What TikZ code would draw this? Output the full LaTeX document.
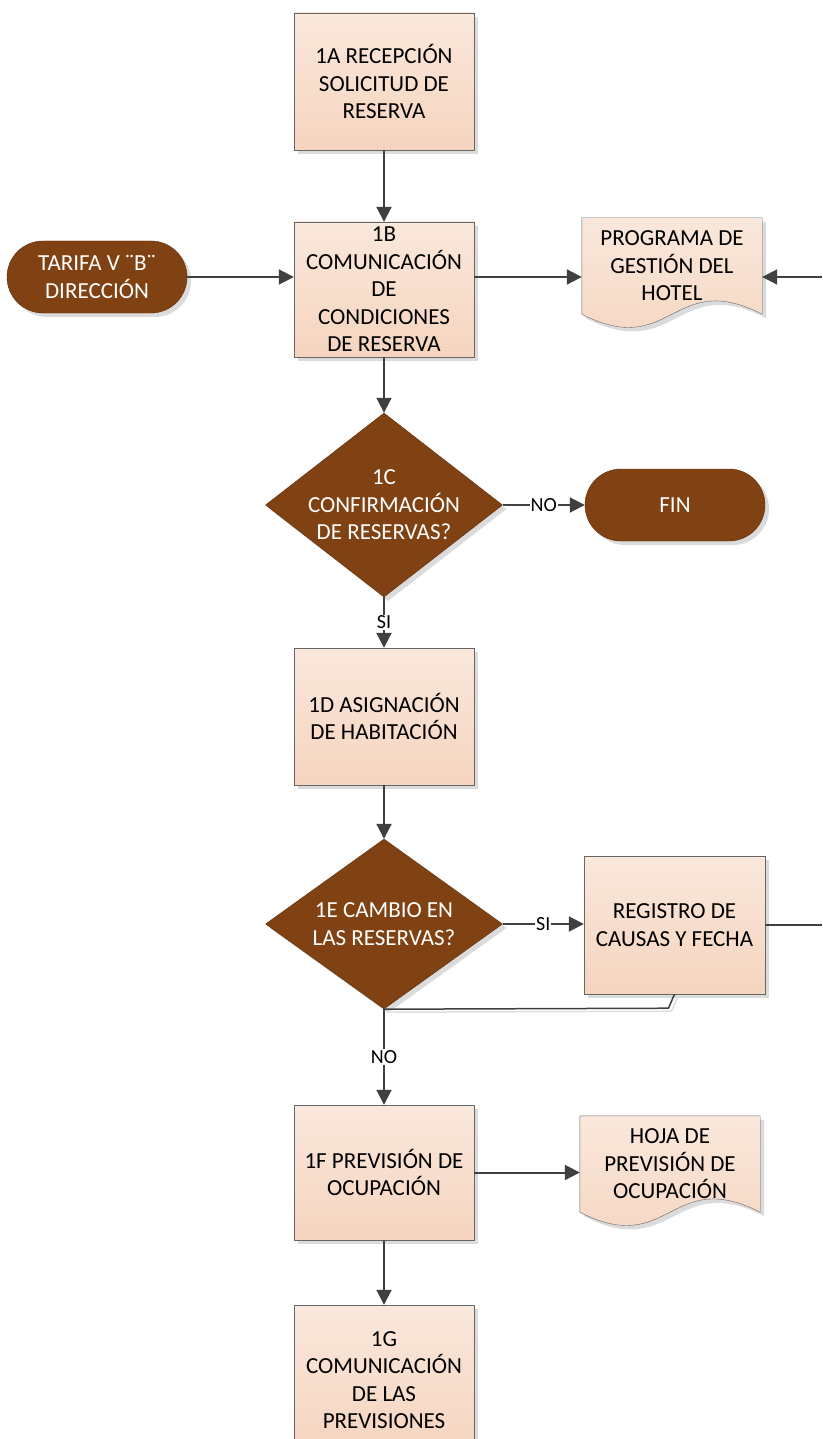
\documentclass[tikz,border=0pt]{standalone}
\usepackage{fontspec}
\setmainfont{Carlito}
\usetikzlibrary{shapes.geometric,arrows.meta,shadows,backgrounds}

\definecolor{cajasup}{RGB}{250,232,220}
\definecolor{cajainf}{RGB}{245,212,190}
\definecolor{cafe}{RGB}{128,66,18}
\definecolor{cafeosc}{RGB}{92,44,10}
\definecolor{linea}{RGB}{64,64,64}

\newcommand{\letra}{\fontsize{23}{27.5}\selectfont}
\newcommand{\letrita}{\fontsize{20}{22}\selectfont}

\tikzset{
	sombra/.style={drop shadow={shadow xshift=4pt,shadow yshift=-4pt,fill=black!14,opacity=1}},
	caja/.style={rectangle, draw=gray!80!black, top color=cajasup, bottom color=cajainf, sombra,
		minimum width=180pt, minimum height=137pt, inner sep=1pt, align=center},
	terminal/.style={rectangle, rounded corners=36pt, draw=cafeosc, fill=cafe, text=white, sombra,
		minimum width=180pt, minimum height=72pt, inner sep=1pt, align=center},
	decision/.style={diamond, draw=cafeosc, fill=cafe, sombra, inner sep=0pt,
		minimum width=237pt, minimum height=184pt},
	documento/.style={rectangle, draw=none, minimum width=180pt, minimum height=96pt, inner sep=1pt, align=center},
	hoja/.style={draw=gray!80!black, top color=cajasup, bottom color=cajainf, sombra},
	flecha/.style={draw=linea, line width=2pt, -{Triangle[length=15pt,width=15pt]}},
	retorno/.style={draw=linea, line width=1.5pt,
		preaction={draw=black!12, line width=1.5pt, transform canvas={xshift=3pt,yshift=-3pt}}},
	etiqueta/.style={fill=white, inner sep=1pt, font=\letrita}
}

\begin{document}
\begin{tikzpicture}[x=1pt, y=-1pt, font=\letra]
	\useasboundingbox (0,0) rectangle (822,1439);
	\clip (0,0) rectangle (822,1439);

	% Procesos
	\node[caja] (recep) at (384,81.5) {1A RECEPCIÓN\\SOLICITUD DE\\RESERVA};
	\node[caja, minimum height=135pt] (comun) at (384,289.5) {1B\\COMUNICACIÓN\\DE\\CONDICIONES\\DE RESERVA};
	\node[caja] (asign) at (384,716.5) {1D ASIGNACIÓN\\DE HABITACIÓN};
	\node[caja, minimum width=181pt, minimum height=138pt] (regis) at (674.5,925) {REGISTRO DE\\CAUSAS Y FECHA};
	\node[caja, minimum height=135pt] (previ) at (384,1172.5) {1F PREVISIÓN DE\\OCUPACIÓN};
	\node[caja, minimum height=150pt] (comprev) at (384,1380) {1G\\COMUNICACIÓN\\DE LAS\\PREVISIONES};

	% Terminales
	\node[terminal] (tarifa) at (97,277) {TARIFA V ¨B¨\\DIRECCIÓN};
	\node[terminal] (fin) at (675,505) {FIN};

	% Decisiones
	\node[decision, label={[text=white, align=center]center:1C\\CONFIRMACIÓN\\DE RESERVAS?}] (confirm) at (384,505) {};
	\node[decision, minimum height=170pt, label={[text=white, align=center]center:1E CAMBIO EN\\LAS RESERVAS?}] (cambio) at (384,924) {};

	% Documentos
	\node[documento] (prog) at (672,266) {PROGRAMA DE\\GESTIÓN DEL\\HOTEL};
	\node[documento] (hojaprev) at (670,1164) {HOJA DE\\PREVISIÓN DE\\OCUPACIÓN};
	\begin{scope}[on background layer]
		\draw[hoja] (prog.north west) -- (prog.north east) -- (prog.south east)
			.. controls +(-90,-46) and +(90,46) .. (prog.south west) -- cycle;
		\draw[hoja] (hojaprev.north west) -- (hojaprev.north east) -- (hojaprev.south east)
			.. controls +(-90,-46) and +(90,46) .. (hojaprev.south west) -- cycle;
	\end{scope}

	% Bordes
	\coordinate (bordeA) at (822,277);
	\coordinate (bordeB) at (822,925);

	% Setas
	\draw[flecha] (recep) -- (comun);
	\draw[flecha] (tarifa) -- (comun.west |- tarifa);
	\draw[flecha] (comun.east |- tarifa) -- (prog.west |- tarifa);
	\draw[flecha] (bordeA) -- (prog.east |- bordeA);
	\draw[flecha] (comun) -- (confirm);
	\draw[flecha] (confirm) -- node[etiqueta] {NO} (fin);
	\draw[flecha] (confirm) -- node[etiqueta] {SI} (asign);
	\draw[flecha] (asign) -- (cambio);
	\draw[flecha] (cambio.east) -- node[etiqueta] {SI} (regis.west |- cambio.east);
	\draw[draw=linea, line width=2pt] (regis.east) -- (bordeB);
	\draw[retorno] (regis.south) -- ++(-6,14) -- (cambio.south);
	\draw[flecha] (cambio) -- node[etiqueta] {NO} (previ);
	\draw[flecha] (previ.east) -- (hojaprev.west |- previ.east);
	\draw[flecha] (previ) -- (comprev);
\end{tikzpicture}
\end{document}
